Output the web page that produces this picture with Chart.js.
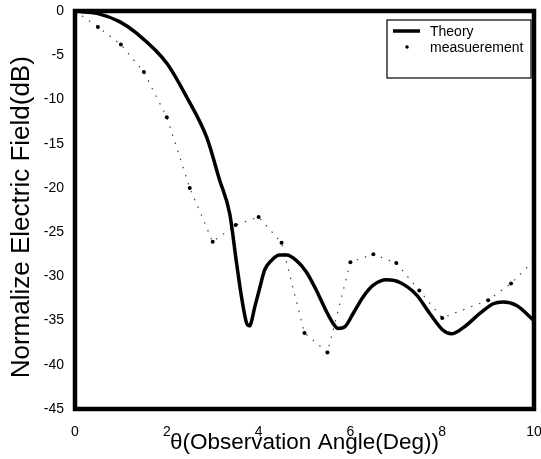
<!DOCTYPE html>
<html>
<head>
<meta charset="utf-8">
<title>Normalize Electric Field</title>
<script src="https://cdn.jsdelivr.net/npm/chart.js@4/dist/chart.umd.min.js"></script>
<style>
    body { margin: 0; background: #fff; }
    #wrap { width: 541px; height: 459px; position: relative; }
</style>
</head>
<body>
<div id="wrap"><canvas id="fieldChart"></canvas></div>
<script>
// Datos
const theoryAngle = [0, 0.5, 0.97, 1.34, 2.0, 2.43, 2.87, 3.15, 3.37, 3.52, 3.63, 3.74, 3.8, 3.92, 4.03, 4.13, 4.28, 4.46, 4.61, 4.82, 5.04, 5.26, 5.48, 5.62, 5.73, 5.88, 6.06, 6.28, 6.5, 6.79, 7.08, 7.44, 7.73, 8.02, 8.2, 8.46, 8.82, 9.11, 9.33, 9.62, 10];
const theoryDb = [0, -0.3, -1.2, -2.5, -5.9, -9.7, -14.3, -19.1, -22.9, -28.5, -32.4, -35.3, -35.6, -33.4, -31.2, -29.3, -28.2, -27.6, -27.6, -28.2, -29.5, -31.6, -34.0, -35.3, -35.9, -35.7, -34.2, -32.3, -31.0, -30.4, -30.7, -32.1, -34.2, -36.1, -36.5, -35.8, -34.2, -33.1, -32.9, -33.3, -35.0];

const measAngle = [0, 0.5, 1, 1.5, 2, 2.5, 3, 3.5, 4, 4.5, 5, 5.5, 6, 6.5, 7, 7.5, 8, 9, 9.5, 10];
const measDb = [0, -1.8, -3.8, -6.9, -12.0, -20.0, -26.1, -24.2, -23.3, -26.2, -36.4, -38.6, -28.4, -27.5, -28.5, -31.6, -34.7, -32.7, -30.8, -28.2];

const xTicks = [0, 2, 4, 6, 8, 10];
const yTicks = [0, -5, -10, -15, -20, -25, -30, -35, -40, -45];

const seriesNames = ['Theory', 'measuerement'];

const FONT = "'Liberation Sans', Arial, Helvetica, sans-serif";

function toPoints(xs, ys) {
    return xs.map(function(x, i) { return { x: x, y: ys[i] }; });
}

// Marco grueso alrededor del area del grafico
const framePlugin = {
    id: 'frame',
    afterDatasetsDraw: function(chart) {
        const a = chart.chartArea;
        const ctx = chart.ctx;
        ctx.save();
        ctx.strokeStyle = '#000';
        ctx.lineWidth = 4.5;
        ctx.strokeRect(a.left, a.top, a.right - a.left, a.bottom - a.top);
        ctx.restore();
    }
};

// Leyenda dentro del grafico, arriba a la derecha
const boxLegendPlugin = {
    id: 'boxLegend',
    afterDraw: function(chart) {
        const ctx = chart.ctx;
        const a = chart.chartArea;
        const bx = a.right - 147, by = a.top + 9, bw = 144, bh = 58;
        ctx.save();
        ctx.fillStyle = '#fff';
        ctx.fillRect(bx, by, bw, bh);
        ctx.strokeStyle = '#000';
        ctx.lineWidth = 1.2;
        ctx.strokeRect(bx, by, bw, bh);

        ctx.font = '14px ' + FONT;
        ctx.fillStyle = '#000';
        ctx.textBaseline = 'middle';

        // Theory
        ctx.lineWidth = 3.5;
        ctx.beginPath();
        ctx.moveTo(bx + 6, by + 11);
        ctx.lineTo(bx + 33, by + 11);
        ctx.stroke();
        ctx.fillText(chart.data.datasets[0].label, bx + 43, by + 12);

        // measuerement
        ctx.beginPath();
        ctx.arc(bx + 20, by + 27, 1.8, 0, Math.PI * 2);
        ctx.fill();
        ctx.fillText(chart.data.datasets[1].label, bx + 43, by + 28);
        ctx.restore();
    }
};

document.addEventListener('DOMContentLoaded', function() {
    const ctx = document.getElementById('fieldChart');

    new Chart(ctx, {
        type: 'line',
        data: {
            datasets: [{
                label: seriesNames[0],
                data: toPoints(theoryAngle, theoryDb),
                borderColor: '#000',
                borderWidth: 3.5,
                pointRadius: 0,
                cubicInterpolationMode: 'monotone',
                fill: false
            }, {
                label: seriesNames[1],
                data: toPoints(measAngle, measDb),
                borderColor: '#444',
                borderWidth: 1.2,
                borderDash: [1.5, 7],
                pointRadius: 2,
                pointBackgroundColor: '#000',
                pointBorderColor: '#000',
                pointBorderWidth: 0,
                tension: 0,
                fill: false
            }]
        },
        options: {
            responsive: true,
            maintainAspectRatio: false,
            animation: false,
            layout: {
                padding: { top: 11, right: 7, bottom: 0, left: 0 }
            },
            scales: {
                x: {
                    type: 'linear',
                    min: 0,
                    max: 10,
                    afterBuildTicks: function(scale) {
                        scale.ticks = xTicks.map(function(v) { return { value: v }; });
                    },
                    afterFit: function(scale) {
                        scale.height = 50;
                        scale.paddingLeft = 0;
                        scale.paddingRight = 0;
                    },
                    grid: { display: false },
                    border: { display: false },
                    ticks: {
                        color: '#000',
                        padding: 7,
                        maxRotation: 0,
                        font: { family: FONT, size: 14 }
                    },
                    title: {
                        display: true,
                        text: 'θ(Observation Angle(Deg))',
                        color: '#000',
                        padding: { top: 0, bottom: 3 },
                        font: { family: FONT, size: 22.5 }
                    }
                },
                y: {
                    min: -45,
                    max: 0,
                    afterBuildTicks: function(scale) {
                        scale.ticks = yTicks.map(function(v) { return { value: v }; });
                    },
                    afterFit: function(scale) {
                        scale.width = 75;
                        scale.paddingTop = 0;
                        scale.paddingBottom = 0;
                    },
                    grid: { display: false },
                    border: { display: false },
                    ticks: {
                        color: '#000',
                        padding: 3,
                        font: { family: FONT, size: 14 },
                        callback: function(value) { return String(value); }
                    },
                    title: {
                        display: true,
                        text: 'Normalize Electric Field(dB)  ',
                        color: '#000',
                        padding: { top: 6, bottom: 0 },
                        font: { family: FONT, size: 26 }
                    }
                }
            },
            plugins: {
                legend: { display: false },
                tooltip: { enabled: false }
            }
        },
        plugins: [framePlugin, boxLegendPlugin]
    });
});
</script>
</body>
</html>
